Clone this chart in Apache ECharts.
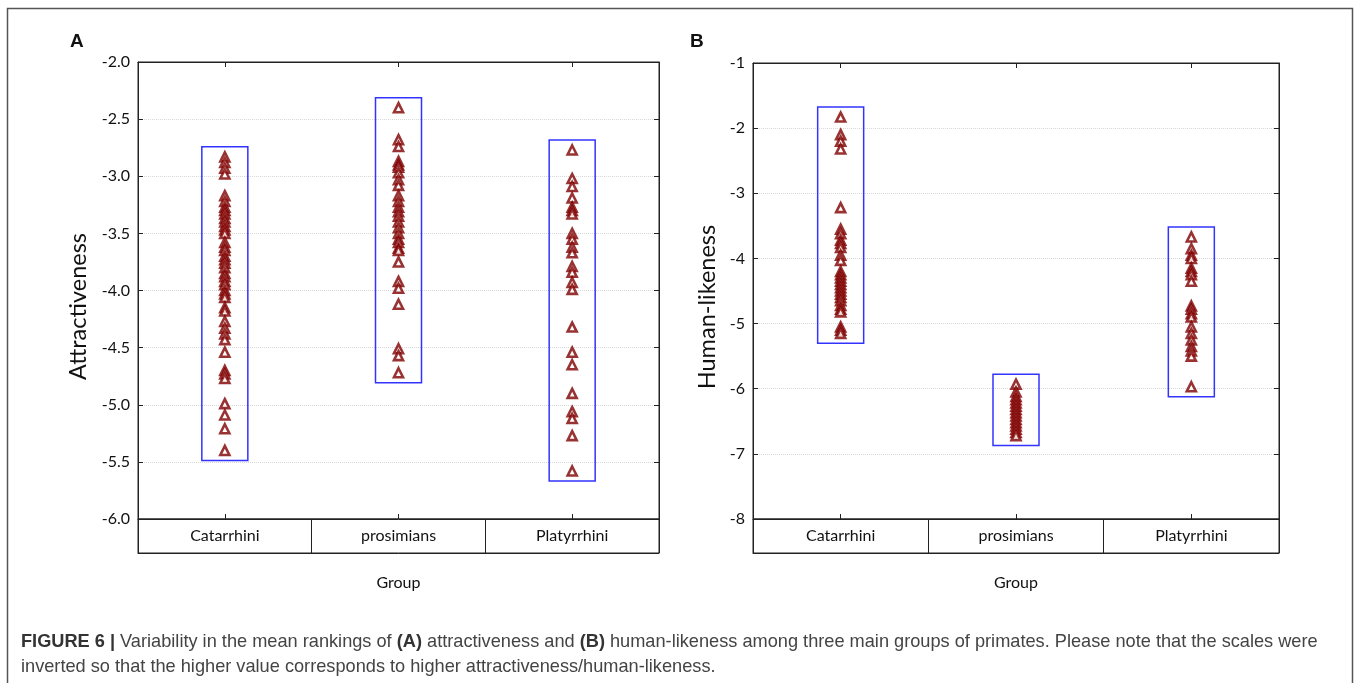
<!DOCTYPE html>
<html>
<head>
<meta charset="utf-8">
<script src="https://cdn.jsdelivr.net/npm/echarts@6/dist/echarts.min.js"></script>
<style>
  html, body { margin: 0; padding: 0; background: #fff; }
  #chart { width: 1358px; height: 683px; }
</style>
</head>
<body>
<div id="chart"></div>
<script>
// categories
const groups = ["Catarrhini", "prosimians", "Platyrrhini"];

// panel A: attractiveness (inverted scale)
const attrCatarrhini = [-2.83, -2.88, -2.93, -2.98, -3.17, -3.22, -3.27, -3.30, -3.33, -3.37, -3.40, -3.44, -3.47, -3.50,
  -3.58, -3.62, -3.65, -3.70, -3.73, -3.76, -3.80, -3.85, -3.88, -3.92, -3.95, -4.00, -4.03, -4.06, -4.15, -4.18,
  -4.27, -4.33, -4.38, -4.43, -4.54, -4.70, -4.73, -4.77, -4.99, -5.09, -5.21, -5.40];
const attrProsimians = [-2.40, -2.68, -2.74, -2.87, -2.90, -2.92, -2.97, -3.03, -3.08, -3.17, -3.22, -3.27, -3.31, -3.35,
  -3.40, -3.45, -3.50, -3.55, -3.58, -3.63, -3.65, -3.75, -3.92, -3.98, -4.12, -4.51, -4.57, -4.72];
const attrPlatyrrhini = [-2.77, -3.02, -3.09, -3.19, -3.27, -3.30, -3.33, -3.50, -3.55, -3.62, -3.67, -3.79, -3.84,
  -3.93, -3.99, -4.32, -4.54, -4.65, -4.90, -5.06, -5.12, -5.27, -5.58];

// panel B: human-likeness (inverted scale)
const humanCatarrhini = [-1.83, -2.10, -2.20, -2.32, -3.22, -3.55, -3.62, -3.72, -3.77, -3.83, -3.95, -4.03, -4.20,
  -4.25, -4.30, -4.35, -4.40, -4.45, -4.50, -4.55, -4.60, -4.65, -4.72, -4.78, -4.82, -5.05, -5.10, -5.15];
const humanProsimians = [-5.93, -6.05, -6.12, -6.17, -6.22, -6.27, -6.32, -6.37, -6.42, -6.47, -6.52, -6.57, -6.62,
  -6.67, -6.72];
const humanPlatyrrhini = [-3.67, -3.85, -3.95, -4.00, -4.15, -4.20, -4.25, -4.35, -4.73, -4.78, -4.85, -4.90, -5.05,
  -5.15, -5.25, -5.35, -5.42, -5.50, -5.97];

const attrTicks = { min: -6, max: -2, interval: 0.5 };
const humanTicks = { min: -8, max: -1, interval: 1 };

const FONT = "Lato";
const MARK = "#7f0000";
const BOX = "#3333ff";

const chart = echarts.init(document.getElementById("chart"));

const toPoints = (vals, idx) => vals.map((v) => [idx, v]);
const ranges = (lists) => lists.map((l, i) => [i, Math.max(...l), Math.min(...l)]);

function plotAxes(gridIdx) {
  const tick = { show: true, inside: true, length: 5, alignWithLabel: true, lineStyle: { color: "#222" } };
  return [
    { type: "category", data: groups, gridIndex: gridIdx, position: "bottom", boundaryGap: true,
      axisLine: { lineStyle: { color: "#222" } }, axisTick: tick, axisLabel: { show: false } },
    { type: "category", data: groups, gridIndex: gridIdx, position: "top", boundaryGap: true,
      axisLine: { lineStyle: { color: "#222" } }, axisTick: tick, axisLabel: { show: false } },
  ];
}

function labelAxis(gridIdx) {
  return {
    type: "category", data: groups, gridIndex: gridIdx, position: "bottom", boundaryGap: true,
    axisLine: { lineStyle: { color: "#222" } },
    axisTick: { show: false },
    splitLine: { show: true, interval: 0, lineStyle: { color: "#222", width: 1 } },
    axisLabel: { margin: -25, color: "#111", fontFamily: FONT, fontSize: 16 },
    name: "Group", nameLocation: "middle", nameGap: 22,
    nameTextStyle: { color: "#111", fontFamily: FONT, fontSize: 16 },
  };
}

function valueAxes(gridIdx, t, title, digits, gap) {
  return [
    { type: "value", gridIndex: gridIdx, position: "left", min: t.min, max: t.max, interval: t.interval,
      axisLine: { show: true, lineStyle: { color: "#222" } },
      axisTick: { show: true, inside: true, length: 5, lineStyle: { color: "#222" } },
      axisLabel: { color: "#111", fontFamily: FONT, fontSize: 16, margin: 8,
        formatter: (v) => v.toFixed(digits) },
      splitLine: { show: true, lineStyle: { color: "#d8d8d8", type: "dotted" } },
      // title sits centred on plot + label strip, so push it down a bit
      name: title, nameLocation: "middle", nameRotate: 90, nameGap: gap,
      nameTextStyle: { color: "#111", fontFamily: FONT, fontSize: 23.5, padding: [0, 32, 0, 0] } },
    { type: "value", gridIndex: gridIdx, position: "right", min: t.min, max: t.max, interval: t.interval,
      axisLine: { show: true, lineStyle: { color: "#222" } },
      axisTick: { show: true, inside: true, length: 5, lineStyle: { color: "#222" } },
      axisLabel: { show: false }, splitLine: { show: false } },
  ];
}

function scatter(xi, yi, vals, idx) {
  return {
    type: "scatter", xAxisIndex: xi, yAxisIndex: yi, data: toPoints(vals, idx),
    symbol: "triangle", symbolSize: 9, z: 5,
    itemStyle: { color: "#fff", borderColor: MARK, borderWidth: 2.6 },
  };
}

function boxes(xi, yi, lists) {
  return {
    type: "custom", xAxisIndex: xi, yAxisIndex: yi, data: ranges(lists), z: 2, silent: true,
    renderItem: (params, api) => {
      const top = api.coord([api.value(0), api.value(1)]);
      const bot = api.coord([api.value(0), api.value(2)]);
      return {
        type: "rect",
        shape: { x: top[0] - 23, y: top[1] - 10, width: 46, height: bot[1] - top[1] + 20 },
        style: { fill: "none", stroke: BOX, lineWidth: 1.5 },
      };
    },
  };
}

const attrLists = [attrCatarrhini, attrProsimians, attrPlatyrrhini];
const humanLists = [humanCatarrhini, humanProsimians, humanPlatyrrhini];

chart.setOption({
  animation: false,
  backgroundColor: "#fff",
  grid: [
    { left: 138, top: 62, width: 521, height: 457, show: true, borderColor: "#222", borderWidth: 1 },
    { left: 138, top: 519, width: 521, height: 34, show: true, borderColor: "#222", borderWidth: 1 },
    { left: 753, top: 63, width: 526, height: 456, show: true, borderColor: "#222", borderWidth: 1 },
    { left: 753, top: 519, width: 526, height: 34, show: true, borderColor: "#222", borderWidth: 1 },
  ],
  xAxis: [
    ...plotAxes(0), labelAxis(1),
    ...plotAxes(2), labelAxis(3),
  ],
  yAxis: [
    ...valueAxes(0, attrTicks, "Attractiveness", 1, 48),
    { type: "value", gridIndex: 1, show: false },
    ...valueAxes(2, humanTicks, "Human-likeness", 0, 34),
    { type: "value", gridIndex: 3, show: false },
  ],
  series: [
    boxes(0, 0, attrLists),
    ...attrLists.map((l, i) => scatter(0, 0, l, i)),
    boxes(3, 3, humanLists),
    ...humanLists.map((l, i) => scatter(3, 3, l, i)),
  ],
  graphic: [
    { type: "rect", z: -1, shape: { x: 7.5, y: 8.5, width: 1345, height: 700 },
      style: { fill: "none", stroke: "#555", lineWidth: 1.5 } },
    { type: "text", left: 70, top: 32,
      style: { text: "A", fill: "#111", font: "bold 19px 'Liberation Sans'" } },
    { type: "text", left: 690, top: 32,
      style: { text: "B", fill: "#111", font: "bold 19px 'Liberation Sans'" } },
    { type: "text", left: 21, top: 629,
      style: {
        text: "{b|FIGURE 6 |} Variability in the mean rankings of {b|(A)} attractiveness and {b|(B)} human-likeness among three main groups of primates. Please note that the scales were\ninverted so that the higher value corresponds to higher attractiveness/human-likeness.",
        fill: "#444", font: "18.2px 'Liberation Sans'", lineHeight: 25,
        rich: { b: { fontWeight: "bold", fontFamily: "Liberation Sans", fontSize: 18.2, fill: "#333" } },
      } },
  ],
});
</script>
</body>
</html>
